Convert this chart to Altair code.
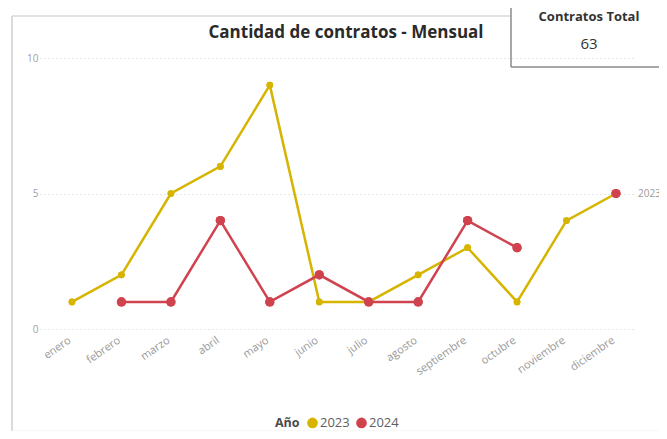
import altair as alt
import pandas as pd

meses = ["enero", "febrero", "marzo", "abril", "mayo", "junio", "julio",
         "agosto", "septiembre", "octubre", "noviembre", "diciembre"]
anios = ["2023", "2024"]
v2023 = [1, 2, 5, 6, 9, 1, 1, 2, 3, 1, 4, 5]
v2024 = [None, 1, 1, 4, 1, 2, 1, 1, 4, 3, None, 5]
colores = ["#D6B400", "#D0434E"]
total = 63

rows = []
for anio, vals in zip(anios, [v2023, v2024]):
    seg = 0
    for i, (m, v) in enumerate(zip(meses, vals)):
        if v is None:
            seg += 1
            continue
        rows.append({"mes": m, "idx": i, "anio": anio, "valor": v, "seg": f"{anio}-{seg}"})
df = pd.DataFrame(rows)

FONT = "Open Sans"

xenc = alt.X("mes:N", sort=meses,
             scale=alt.Scale(type="point", padding=0.516, align=0.627),
             axis=alt.Axis(title=None, labelAngle=-35, labelAlign="right", labelBaseline="top",
                           labelPadding=5, labelOffset=-6, labelColor="#9a9a9a", labelFontSize=11,
                           labelFont=FONT, domain=False, ticks=False, grid=False))
yenc = alt.Y("valor:Q", scale=alt.Scale(domain=[0, 10]),
             axis=alt.Axis(title=None, values=[0, 5, 10], labelColor="#a0a0a0", labelFontSize=10,
                           labelFont=FONT, labelPadding=2, domain=False, ticks=False,
                           grid=True, gridDash=[1, 3], gridColor="#cfcfcf"))

cscale = alt.Scale(domain=anios, range=colores)
legend = alt.Legend(title="Año", orient="none", legendX=235, legendY=358,
                    direction="horizontal", titleOrient="left",
                    symbolType="circle", symbolSize=85,
                    titleFontSize=12.5, titleFont=FONT, titleColor="#4a4a4a",
                    labelFontSize=13, labelFont=FONT, labelColor="#606060",
                    columnPadding=3, labelOffset=1, titlePadding=6)

base = alt.Chart(df)

points = base.mark_point(filled=True, shape="circle", opacity=1).encode(
    x=xenc, y=yenc,
    color=alt.Color("anio:N", scale=cscale, legend=legend),
    size=alt.condition(alt.datum.anio == "2023", alt.value(45), alt.value(85)),
)

lines = base.mark_line(strokeWidth=2.5).encode(
    x=xenc, y=yenc,
    color=alt.Color("anio:N", scale=cscale, legend=legend),
    detail="seg:N",
    order="idx:Q",
)

points_top = base.mark_point(filled=True, shape="circle", opacity=1).encode(
    x=xenc, y=yenc,
    color=alt.Color("anio:N", scale=cscale, legend=legend),
    size=alt.condition(alt.datum.anio == "2023", alt.value(45), alt.value(85)),
)

endlabel = base.transform_filter(
    (alt.datum.anio == "2023") & (alt.datum.mes == "diciembre")
).mark_text(align="left", dx=22, fontSize=10, font=FONT, color="#999999").encode(
    x=xenc, y=yenc, text="anio:N"
)

one = pd.DataFrame({"k": [0]})

title = alt.Chart(one).mark_text(fontSize=17, fontWeight="bold", font=FONT, color="#2a2a2a",
                                 align="center", baseline="alphabetic").encode(
    x=alt.value(306), y=alt.value(-20), text=alt.value("Cantidad de contratos - Mensual"))

card_t = alt.Chart(one).mark_text(fontSize=13, fontWeight="bold", font=FONT, color="#333333",
                                  align="center", baseline="middle").encode(
    x=alt.value(549), y=alt.value(-41), text=alt.value("Contratos Total"))
card_v = alt.Chart(one).mark_text(fontSize=15, font=FONT, color="#333333",
                                  align="center", baseline="middle").encode(
    x=alt.value(549), y=alt.value(-14), text=alt.value(str(total)))

frame_left = alt.Chart(one).mark_rule(color="#cfcfcf", strokeWidth=1.5).encode(
    x=alt.value(-28), y=alt.value(-42), y2=alt.value(373))
frame_top = alt.Chart(one).mark_rule(color="#d8d8d8", strokeWidth=1.5).encode(
    x=alt.value(-28), x2=alt.value(471), y=alt.value(-42))
frame_bottom = alt.Chart(one).mark_rule(color="#eeeeee", strokeWidth=1).encode(
    x=alt.value(-28), x2=alt.value(619), y=alt.value(373))
card_left = alt.Chart(one).mark_rule(color="#8a8a8a", strokeWidth=1.5).encode(
    x=alt.value(471), y=alt.value(-58), y2=alt.value(9))
card_bottom = alt.Chart(one).mark_rule(color="#8a8a8a", strokeWidth=1.5).encode(
    x=alt.value(471), x2=alt.value(619), y=alt.value(9))

chart = alt.layer(
    points, frame_left, frame_top, frame_bottom, card_left, card_bottom,
    lines, points_top, endlabel, title, card_t, card_v
).properties(
    width=595, height=271,
    padding={"left": 32, "top": 50, "right": 24, "bottom": 102},
    autosize=alt.AutoSizeParams(type="none"),
    background="white",
).configure_view(stroke=None)

chart.save("out.html", embed_options={"renderer": "svg", "actions": False})
